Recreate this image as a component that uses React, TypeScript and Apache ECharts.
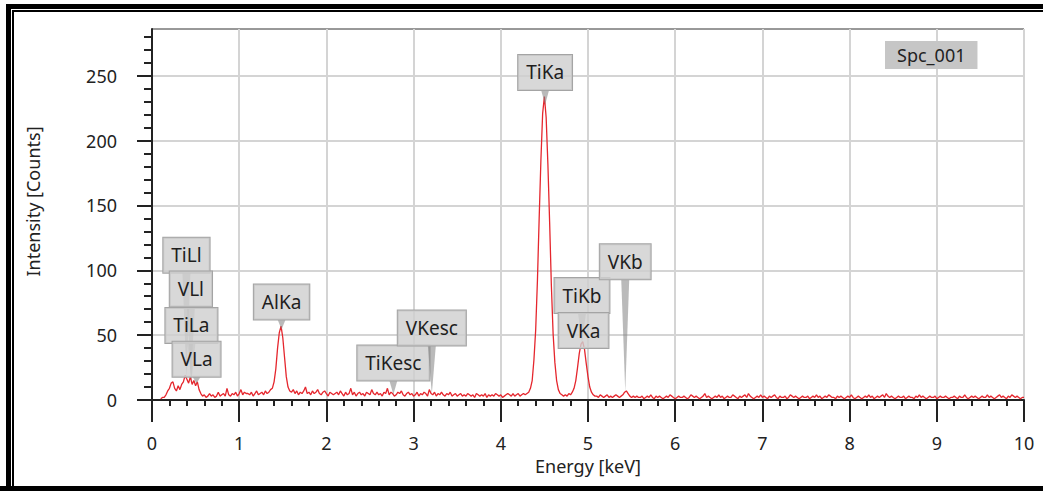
import React, { useEffect, useRef } from "react";
import * as echarts from "echarts";

// Channel calibration of the spectrum (keV)
const channelStart = 0.1;
const channelWidth = 0.02;

// Counts per channel, 0.10 keV .. 10.00 keV
const counts = [
  1, 2, 2, 4, 7, 9, 13, 14, 9, 7, 11, 8, 12, 14, 19, 16, 13, 18, 12, 15, 11, 14, 8, 5, 3,
  4, 2, 3, 5, 3, 4, 2, 3, 6, 3, 4, 5, 3, 9, 4, 3, 5, 4, 6, 3, 5, 8, 4, 6, 5,
  5, 4, 6, 3, 5, 7, 4, 5, 6, 4, 7, 5, 6, 8, 9, 14, 24, 40, 52, 57, 48, 33, 18, 10, 7,
  6, 8, 5, 7, 4, 6, 5, 7, 10, 5, 6, 4, 7, 5, 6, 8, 5, 4, 6, 7, 5, 3, 6, 5, 4,
  5, 6, 4, 7, 5, 3, 6, 4, 5, 9, 4, 6, 3, 5, 6, 4, 5, 3, 6, 5, 4, 8, 5, 4, 6,
  4, 5, 3, 6, 5, 9, 4, 6, 5, 3, 4, 6, 5, 7, 4, 3, 5, 6, 4, 5, 3, 4, 6, 3, 5,
  4, 6, 5, 3, 8, 5, 4, 6, 3, 5, 4, 6, 4, 3, 5, 4, 6, 3, 4, 5, 3, 4, 5, 3, 4,
  3, 5, 4, 3, 4, 2, 5, 4, 3, 4, 3, 5, 2, 4, 3, 4, 3, 5, 4, 3, 4, 2, 3, 4, 5,
  4, 3, 5, 3, 4, 5, 3, 4, 5, 4, 5, 6, 9, 15, 31, 54, 92, 140, 185, 221, 234, 218, 182, 137, 88,
  51, 29, 15, 8, 5, 4, 3, 4, 3, 5, 4, 6, 9, 15, 25, 36, 43, 45, 39, 28, 18, 10, 6, 4, 3,
  3, 2, 4, 3, 2, 3, 4, 2, 3, 2, 3, 4, 3, 2, 3, 4, 6, 7, 5, 3, 2, 3, 2, 3, 2,
  2, 3, 1, 2, 3, 2, 4, 2, 1, 3, 2, 3, 2, 1, 2, 3, 2, 4, 3, 2, 1, 2, 3, 2, 2,
  3, 2, 1, 2, 4, 3, 2, 3, 2, 1, 2, 3, 5, 2, 3, 2, 1, 2, 3, 2, 4, 2, 3, 1, 2,
  3, 2, 2, 4, 3, 2, 1, 3, 2, 3, 4, 2, 5, 3, 2, 1, 2, 3, 2, 4, 2, 3, 2, 1, 3,
  2, 3, 4, 2, 1, 3, 2, 2, 3, 1, 2, 4, 3, 2, 3, 2, 1, 2, 3, 2, 2, 3, 1, 2, 3,
  2, 4, 2, 3, 1, 2, 3, 2, 4, 3, 2, 2, 1, 3, 2, 3, 2, 1, 2, 3, 2, 4, 2, 1, 2,
  3, 2, 1, 2, 3, 2, 4, 2, 3, 1, 2, 3, 2, 3, 4, 2, 5, 3, 2, 3, 2, 1, 2, 3, 2,
  2, 3, 1, 2, 3, 2, 2, 1, 3, 2, 4, 2, 3, 2, 1, 2, 3, 2, 2, 3, 1, 2, 3, 2, 2,
  3, 2, 1, 2, 2, 3, 2, 1, 3, 2, 2, 4, 2, 1, 2, 3, 2, 3, 2, 1, 2, 3, 2, 2, 4,
  2, 3, 2, 1, 2, 3, 4, 2, 3, 2, 1, 3, 2, 4, 3, 2, 3, 2, 1, 2, 2,
];

// Identified X-ray lines
const lineNames = ["TiLl", "VLl", "TiLa", "VLa", "AlKa", "TiKesc", "VKesc", "TiKa", "TiKb", "VKa", "VKb"];
const lineEnergies = [0.395, 0.446, 0.452, 0.511, 1.486, 2.768, 3.209, 4.508, 4.931, 4.949, 5.427];
// Height (counts) where each tag box sits
const tagLevels = [98, 72, 44, 18, 62, 15, 42, 239, 67, 40, 93];

const yTickValues = [0, 50, 100, 150, 200, 250];
const spectrumName = "Spc_001";

const FONT = '"Noto Sans", "DejaVu Sans", sans-serif';

export default function App() {
  const ref = useRef<HTMLDivElement>(null);

  useEffect(() => {
    if (!ref.current) return;
    const chart = echarts.init(ref.current, null, { renderer: "svg" });

    const spectrum = counts.map((c, i) => [+(channelStart + i * channelWidth).toFixed(2), c]);

    const countsAt = (e: number) => {
      const pos = (e - channelStart) / channelWidth;
      const i0 = Math.max(0, Math.min(counts.length - 2, Math.floor(pos)));
      const f = pos - i0;
      return counts[i0] * (1 - f) + counts[i0 + 1] * f;
    };

    const tags = lineNames.map((_, i) => [lineEnergies[i], tagLevels[i], countsAt(lineEnergies[i])]);

    chart.setOption({
      animation: false,
      title: {
        text: spectrumName,
        left: 885,
        top: 41,
        padding: [4, 12],
        backgroundColor: "#c6c6c6",
        textStyle: { fontFamily: FONT, fontSize: 18, fontWeight: "normal", color: "#222", lineHeight: 20 },
      },
      grid: {
        left: 152,
        top: 29,
        right: 19,
        bottom: 91,
        show: true,
        borderColor: "#333",
        borderWidth: 1,
        backgroundColor: "transparent",
      },
      xAxis: {
        type: "value",
        min: 0,
        max: 10,
        interval: 1,
        name: "Energy [keV]",
        nameLocation: "middle",
        nameGap: 56,
        nameTextStyle: { fontFamily: FONT, fontSize: 18, color: "#222", padding: [0, 0, 0, 0] },
        axisLine: { onZero: false, lineStyle: { color: "#222", width: 2 } },
        axisTick: { show: true, length: 22, lineStyle: { color: "#222", width: 2 } },
        minorTick: { show: true, splitNumber: 5, length: 6, lineStyle: { color: "#222", width: 2 } },
        axisLabel: { fontFamily: FONT, fontSize: 18, color: "#222", margin: 34 },
        splitLine: { show: true, lineStyle: { color: "#d4d4d4", width: 2 } },
      },
      yAxis: {
        type: "value",
        min: 0,
        max: 286,
        interval: 50,
        name: "Intensity [Counts]",
        nameLocation: "middle",
        nameGap: 110,
        nameTextStyle: { fontFamily: FONT, fontSize: 18, color: "#222", padding: [0, 0, 0, 26] },
        axisLine: { lineStyle: { color: "#222", width: 2 } },
        axisTick: { show: true, length: 15, customValues: yTickValues, lineStyle: { color: "#222", width: 2 } },
        minorTick: { show: true, splitNumber: 5, length: 8, lineStyle: { color: "#222", width: 2 } },
        axisLabel: { fontFamily: FONT, fontSize: 18, color: "#222", margin: 35, customValues: yTickValues },
        splitLine: { show: true, lineStyle: { color: "#d4d4d4", width: 2 } },
      },
      series: [
        {
          type: "line",
          name: spectrumName,
          data: spectrum,
          showSymbol: false,
          symbol: "none",
          lineStyle: { color: "#e5262d", width: 1.3 },
          z: 2,
        },
        {
          type: "custom",
          name: "lines",
          data: tags,
          encode: { x: 0, y: 1 },
          z: 3,
          renderItem: (params: any, api: any) => {
            const e = api.value(0);
            const top = api.coord([e, api.value(1)]);
            const tip = api.coord([e, api.value(2)]);
            const children: any[] = [];
            if (tip[1] > top[1] + 1) {
              children.push({
                type: "polygon",
                shape: {
                  points: [
                    [top[0] - 4, top[1]],
                    [top[0] + 4, top[1]],
                    [tip[0], tip[1]],
                  ],
                },
                style: { fill: "rgba(130,130,130,0.55)" },
              });
            }
            children.push({
              type: "text",
              x: top[0],
              y: top[1],
              style: {
                text: lineNames[params.dataIndex],
                fontFamily: FONT,
                fontSize: 19,
                lineHeight: 21,
                fill: "#1e1e1e",
                align: "center",
                verticalAlign: "bottom",
                padding: [7, 8],
                backgroundColor: "rgba(208,208,208,0.82)",
                borderColor: "#a4a4a4",
                borderWidth: 1,
              },
            });
            return { type: "group", children };
          },
        },
      ],
    });

    return () => chart.dispose();
  }, []);

  return (
    <div
      style={{
        position: "fixed",
        left: 0,
        top: 0,
        width: 1043,
        height: 491,
        background: "#fff",
        overflow: "hidden",
      }}
    >
      <div
        style={{
          position: "absolute",
          left: 6,
          top: 4,
          width: 1100,
          height: 600,
          border: "5px solid #000",
          boxSizing: "border-box",
        }}
      />
      <div
        style={{
          position: "absolute",
          left: 12,
          top: 10,
          width: 1100,
          height: 600,
          border: "2px solid #000",
          boxSizing: "border-box",
        }}
      />
      <div style={{ position: "absolute", left: 0, top: 486, width: 1043, height: 5, background: "#000" }} />
      <div ref={ref} style={{ position: "absolute", left: 0, top: 0, width: 1043, height: 491 }} />
    </div>
  );
}
